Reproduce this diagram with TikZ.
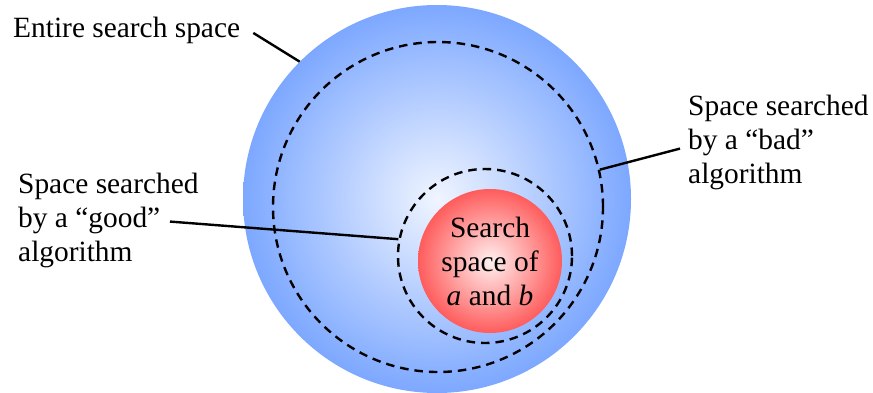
\documentclass[tikz,border=0pt]{standalone}
\usepackage{fontspec}
\setmainfont{Liberation Serif}
\definecolor{blueC}{RGB}{240,245,255}
\definecolor{blueE}{RGB}{125,168,255}
\definecolor{redC}{RGB}{255,240,240}
\definecolor{redE}{RGB}{255,92,92}
\begin{document}
\begin{tikzpicture}[x=1pt,y=-1pt,
  lbl/.style={inner sep=0pt, font=\rmfamily\fontsize{29.4}{34}\selectfont, align=left},
  leader/.style={line width=2.4pt},
  dashcirc/.style={circle, draw, line width=2.4pt, dash pattern=on 8.5pt off 6pt, inner sep=0pt}]
\useasboundingbox (0,0) rectangle (873,392);
\node[circle, minimum size=388pt, inner sep=0pt, inner color=blueC, outer color=blueE] (big) at (437,199) {};
\node[dashcirc, minimum size=330pt] (outerd) at (438,207) {};
\node[dashcirc, minimum size=174pt] (innerd) at (485,256) {};
\node[circle, minimum size=144pt, inner sep=0pt, inner color=redC, outer color=redE] (ab) at (490,261) {};
\node[lbl, align=center] (abtxt) at (490,261) {Search\\space of\\\textit{a} and \textit{b}};
\node[lbl, anchor=base west] (entire) at (13,37) {Entire search space};
\node[lbl, anchor=north west] (bad) at (688,95) {Space searched\\by a “bad”\\algorithm};
\node[lbl, anchor=north west] (good) at (18,173) {Space searched\\by a “good”\\algorithm};
\draw[leader] ([xshift=13pt,yshift=-3pt]entire.east) -- (big.135);
\draw[leader] ([xshift=-8pt,yshift=-6pt]bad.west) -- (outerd.13.5);
\draw[leader] ([xshift=152pt,yshift=-1pt]good.west) -- (innerd.169.6);
\end{tikzpicture}
\end{document}
